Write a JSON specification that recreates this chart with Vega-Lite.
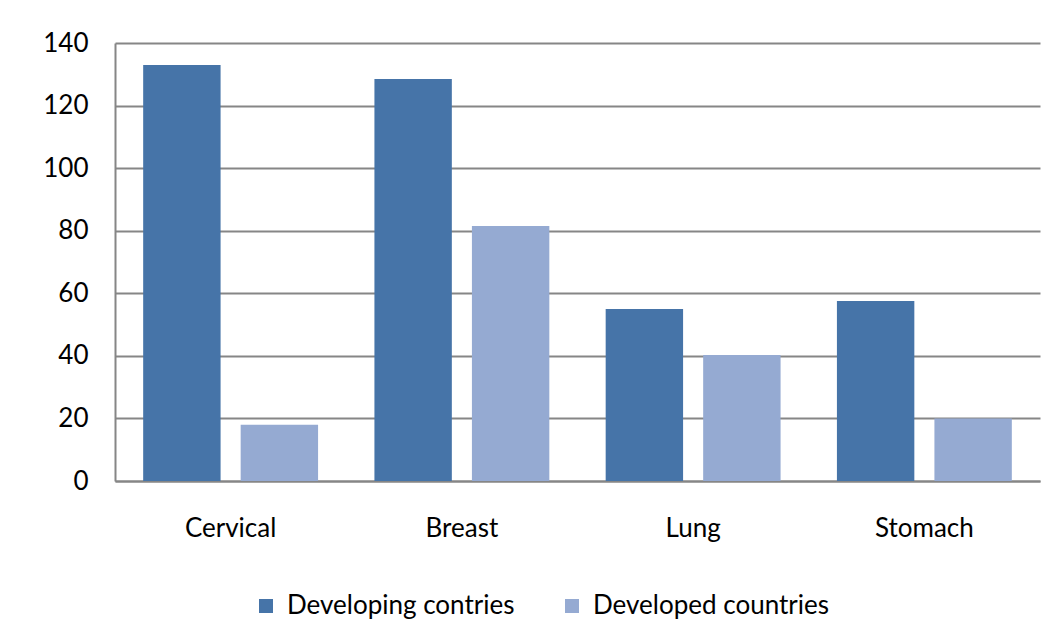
{
  "$schema": "https://vega.github.io/schema/vega-lite/v6.json",
  "width": 925,
  "height": 438,
  "autosize": {"type": "none"},
  "padding": {"left": 115, "top": 43, "right": 21, "bottom": 161},
  "background": "white",
  "data": {
    "values": [
      {"cancer": "Cervical", "group": "Developing contries", "value": 133},
      {"cancer": "Cervical", "group": "Developed countries", "value": 18},
      {"cancer": "Breast", "group": "Developing contries", "value": 128.5},
      {"cancer": "Breast", "group": "Developed countries", "value": 81.5},
      {"cancer": "Lung", "group": "Developing contries", "value": 55},
      {"cancer": "Lung", "group": "Developed countries", "value": 40.3},
      {"cancer": "Stomach", "group": "Developing contries", "value": 57.5},
      {"cancer": "Stomach", "group": "Developed countries", "value": 20}
    ]
  },
  "mark": {"type": "bar"},
  "encoding": {
    "x": {
      "field": "cancer",
      "type": "nominal",
      "sort": ["Cervical", "Breast", "Lung", "Stomach"],
      "scale": {"paddingInner": 0, "paddingOuter": 0},
      "axis": {
        "title": null,
        "labelAngle": 0,
        "labelFont": "Lato",
        "labelFontSize": 26,
        "labelColor": "#000000",
        "labelPadding": 34,
        "ticks": false,
        "domainColor": "#868686",
        "domainWidth": 2,
        "grid": false
      }
    },
    "xOffset": {
      "field": "group",
      "type": "nominal",
      "sort": ["Developing contries", "Developed countries"],
      "scale": {"paddingInner": 0.206, "paddingOuter": 0.289}
    },
    "y": {
      "field": "value",
      "type": "quantitative",
      "scale": {"domain": [0, 140], "nice": false},
      "axis": {
        "title": null,
        "values": [0, 20, 40, 60, 80, 100, 120, 140],
        "labelFont": "Lato",
        "labelFontSize": 26,
        "labelColor": "#000000",
        "labelPadding": 27,
        "ticks": false,
        "domainColor": "#868686",
        "domainWidth": 2,
        "gridColor": "#868686",
        "gridWidth": 2,
        "gridOpacity": 1
      }
    },
    "color": {
      "field": "group",
      "type": "nominal",
      "sort": ["Developing contries", "Developed countries"],
      "scale": {"domain": ["Developing contries", "Developed countries"], "range": ["#4674A8", "#95AAD2"]},
      "legend": {
        "title": null,
        "orient": "none",
        "direction": "horizontal",
        "legendX": 138,
        "legendY": 550,
        "symbolType": "square",
        "symbolSize": 196,
        "symbolStrokeWidth": 0,
        "symbolOpacity": 1,
        "labelFont": "Lato",
        "labelFontSize": 26,
        "labelColor": "#000000",
        "labelOffset": 8,
        "columnPadding": 44,
        "labelLimit": 400
      }
    }
  },
  "config": {
    "view": {"stroke": null}
  }
}
